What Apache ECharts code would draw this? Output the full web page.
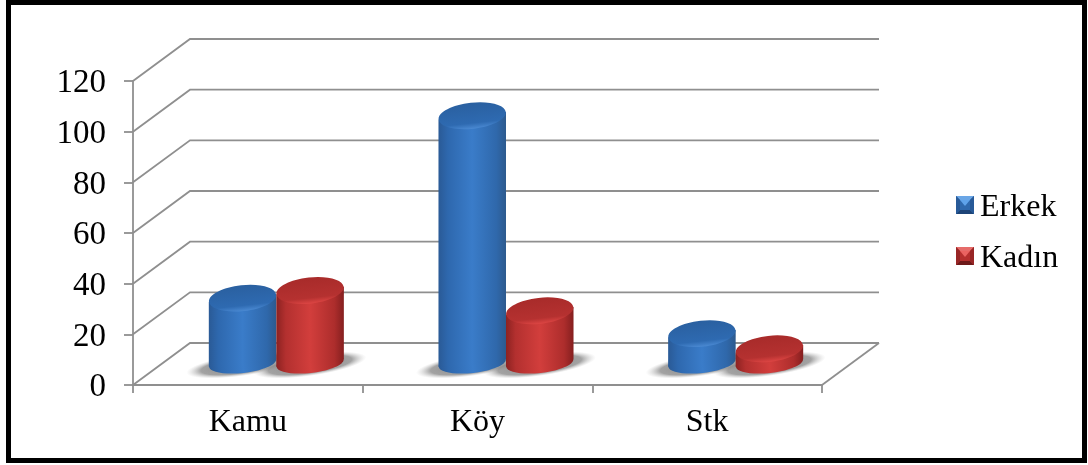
<!DOCTYPE html>
<html><head><meta charset="utf-8">
<style>html,body{margin:0;padding:0;background:#fff}#c{width:1088px;height:465px;filter:blur(0.4px)}</style>
<script src="https://cdn.jsdelivr.net/npm/echarts@6/dist/echarts.min.js"></script>
</head><body><div id="c"></div>
<script>
const categories = ['Kamu', 'Köy', 'Stk'];
const erkek = [26, 98, 12];
const kadin = [29, 21, 6];
const yTicks = [0, 20, 40, 60, 80, 100, 120];

const depthX = 57, depthY = -42, tilt = 0.11;
const FONT = '"Liberation Serif","Times New Roman",serif';
const bevel = (c1, c2, c3, c4, c5) => 'image://data:image/svg+xml,' + encodeURIComponent(
  `<svg xmlns="http://www.w3.org/2000/svg" width="18" height="24"><rect width="18" height="18" fill="${c1}"/><polygon points="0,0 18,0 14,4 4,4" fill="${c2}"/><polygon points="0,18 18,18 14,14 4,14" fill="${c3}"/><polygon points="0,0 4,4 4,14 0,18" fill="${c4}"/><polygon points="18,0 14,4 14,14 18,18" fill="${c4}"/><polygon points="4,4 14,4 9,10" fill="${c5}"/></svg>`);

const palettes = {
  Erkek: { side: ['#2a5a96', '#2e68ae', '#3a7cc9', '#2f68ab', '#2d5a8e'], top: ['#2a60a0', '#2e6ab1', '#4a89d2'], z: 3 },
  'Kadın': { side: ['#8c2221', '#b3302f', '#d23e3c', '#ad2d2c', '#851f1f'], top: ['#a82b2a', '#b53130', '#dc4543'], z: 5 }
};

function barItem(name, sign) {
  const pal = palettes[name];
  return function (params, api) {
    const i = api.value(0);
    const top = api.coord([i, api.value(1)]);
    const base = api.coord([i, 0]);
    const rx = api.size([1, 0])[0] * 0.147;
    const cx = top[0] + depthX / 2 + sign * rx;
    const ty = top[1] + depthY / 2;
    const by = base[1] + depthY / 2 - 1;
    const rTop = 13, rBot = 10;
    const lift = rx * Math.sin(tilt);
    const sideFill = new echarts.graphic.LinearGradient(0, 0, 1, 0, [
      { offset: 0, color: pal.side[0] }, { offset: 0.14, color: pal.side[1] },
      { offset: 0.5, color: pal.side[2] }, { offset: 0.86, color: pal.side[3] },
      { offset: 1, color: pal.side[4] }]);
    const topFill = new echarts.graphic.LinearGradient(0, 0, 0, 1, [
      { offset: 0, color: pal.top[0] }, { offset: 0.78, color: pal.top[1] },
      { offset: 1, color: pal.top[2] }]);
    const ell = (y, ry, fill, z2) => ({
      type: 'ellipse', x: cx, y: y, rotation: tilt, z2: z2,
      shape: { cx: 0, cy: 0, rx: rx, ry: ry }, style: { fill: fill }
    });
    return {
      type: 'group',
      children: [
        {
          type: 'circle', x: cx, y: by + 2, rotation: 0.14, scaleX: (rx + 23) / 11, z2: 1,
          shape: { cx: 0, cy: 0, r: 11 },
          style: {
            fill: new echarts.graphic.RadialGradient(0.5, 0.5, 0.5, [
              { offset: 0, color: 'rgba(125,125,125,0.95)' }, { offset: 0.74, color: 'rgba(140,140,140,0.8)' },
              { offset: 1, color: 'rgba(200,200,200,0)' }])
          }
        },
        ell(by, rBot, sideFill, pal.z),
        {
          type: 'polygon', z2: pal.z,
          shape: { points: [[cx - rx, ty + lift], [cx + rx, ty - lift], [cx + rx, by - lift], [cx - rx, by + lift]] },
          style: { fill: sideFill }
        },
        ell(ty, rTop, topFill, pal.z + 1)
      ]
    };
  };
}

function wallItem(params, api) {
  const c = params.coordSys;
  const y = api.coord([0, api.value(1)])[1];
  const pts = [[c.x, y], [c.x + depthX, y + depthY], [c.x + c.width + depthX, y + depthY]];
  const kids = [{ type: 'polyline', shape: { points: pts }, style: { fill: null, stroke: '#8f8f8f', lineWidth: 1.8 } }];
  if (api.value(1) === 0) {
    kids.push({
      type: 'line',
      shape: { x1: c.x + c.width, y1: y, x2: c.x + c.width + depthX, y2: y + depthY },
      style: { stroke: '#8f8f8f', lineWidth: 1.8 }
    });
  }
  return { type: 'group', children: kids };
}

const chart = echarts.init(document.getElementById('c'), null, { renderer: 'canvas' });
chart.setOption({
  animation: false,
  backgroundColor: '#fff',
  textStyle: { fontFamily: FONT },
  graphic: [{
    type: 'rect', silent: true, z: 0,
    shape: { x: 8.5, y: 2.5, width: 1076, height: 458 },
    style: { fill: 'none', stroke: '#000', lineWidth: 5 }
  }],
  grid: { left: 133, top: 81, width: 689, height: 304 },
  legend: {
    orient: 'vertical', left: 956, top: 192, padding: 0, itemWidth: 18, itemHeight: 24, itemGap: 19,
    textStyle: { fontFamily: FONT, fontSize: 32, color: '#000', padding: [3, 0, 0, 1] },
    data: [
      { name: 'Erkek', icon: bevel('#2f68ad', '#6aa6e6', '#1d4477', '#285a98', '#5fa2ea') },
      { name: 'Kadın', icon: bevel('#b52f2e', '#e66c6a', '#6e1a1a', '#982626', '#ea6361') }
    ]
  },
  xAxis: {
    type: 'category', data: categories,
    axisLine: { lineStyle: { color: '#8f8f8f', width: 1.8 } },
    axisTick: { show: true, length: 8, lineStyle: { color: '#8f8f8f', width: 1.8 } },
    axisLabel: { color: '#000', fontFamily: FONT, fontSize: 32, margin: 22 }
  },
  yAxis: {
    type: 'value', min: 0, max: 120, interval: 20,
    axisLine: { show: true, lineStyle: { color: '#8f8f8f', width: 1.8 } },
    axisTick: { show: true, length: 9, lineStyle: { color: '#8f8f8f', width: 1.8 } },
    axisLabel: {
      color: '#000', fontFamily: FONT, margin: 27,
      formatter: v => '{a|' + v + '}',
      rich: { a: { color: '#000', fontFamily: FONT, fontSize: 33, padding: [5, 0, 0, 0] } }
    },
    splitLine: { show: false }
  },
  series: [
    { type: 'custom', name: 'wall', z: 1, silent: true, renderItem: wallItem, data: yTicks.map(v => [0, v]), encode: { x: 0, y: 1 } },
    { type: 'custom', name: 'Erkek', z: 3, itemStyle: { color: '#2f68ad' }, renderItem: barItem('Erkek', -1), data: erkek.map((v, i) => [i, v]), encode: { x: 0, y: 1 } },
    { type: 'custom', name: 'Kadın', z: 3, itemStyle: { color: '#b52f2e' }, renderItem: barItem('Kadın', 1), data: kadin.map((v, i) => [i, v]), encode: { x: 0, y: 1 } }
  ]
});
</script></body></html>
